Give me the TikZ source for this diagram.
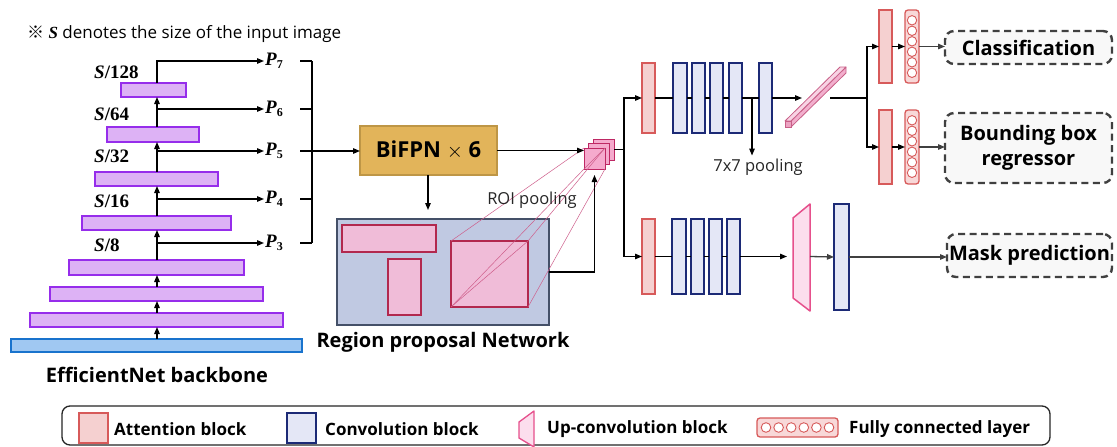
\documentclass[tikz,border=0pt]{standalone}
\usepackage{fontspec}
\setmainfont{Open Sans}
\newfontfamily\cjk{Noto Sans CJK KR}
\newfontfamily\serifb{Liberation Serif}
\usetikzlibrary{arrows.meta,calc}

\definecolor{purpF}{RGB}{221,178,245}
\definecolor{purpD}{RGB}{150,45,235}
\definecolor{baseF}{RGB}{160,200,242}
\definecolor{baseD}{RGB}{25,115,205}
\definecolor{goldF}{RGB}{226,180,90}
\definecolor{goldD}{RGB}{190,150,70}
\definecolor{rpnF}{RGB}{192,201,226}
\definecolor{rpnD}{RGB}{68,80,104}
\definecolor{propF}{RGB}{240,188,216}
\definecolor{propD}{RGB}{178,40,78}
\definecolor{roiF}{RGB}{245,170,205}
\definecolor{roiD}{RGB}{190,40,100}
\definecolor{attF}{RGB}{245,208,208}
\definecolor{attD}{RGB}{215,90,90}
\definecolor{convF}{RGB}{228,231,246}
\definecolor{convD}{RGB}{28,42,118}
\definecolor{upF}{RGB}{252,222,237}
\definecolor{upD}{RGB}{230,80,140}
\definecolor{fcF}{RGB}{248,216,216}
\definecolor{barF}{RGB}{242,175,205}
\definecolor{barD}{RGB}{200,95,135}
\definecolor{resF}{RGB}{248,248,248}
\definecolor{resD}{RGB}{64,64,64}

\newcommand\blk[7][]{\node[#3, minimum width={#6-#4}, minimum height={#7-#5}] (#2) at ({(#4+#6)/2},{(#5+#7)/2}) {#1};}
\newcommand\SLab[1]{{\serifb\bfseries{\itshape S}/#1}}
\newcommand\PLab[1]{{\serifb\bfseries{\itshape P}\raisebox{-0.35ex}{\fontsize{12}{12}\selectfont #1}}}

\begin{document}
\begin{tikzpicture}[x=1pt,y=-1pt,
  blkbase/.style={rectangle, inner sep=0pt, outer sep=0pt},
  purp/.style={blkbase, fill=purpF, draw=purpD, line width=2.6pt},
  bbase/.style={blkbase, fill=baseF, draw=baseD, line width=2.2pt},
  gold/.style={blkbase, fill=goldF, draw=goldD, line width=2.6pt, font=\bfseries\fontsize{22}{26}\selectfont},
  rpn/.style={blkbase, fill=rpnF, draw=rpnD, line width=1.4pt},
  prop/.style={blkbase, fill=propF, draw=propD, line width=1.2pt},
  roi/.style={blkbase, fill=roiF, draw=roiD, line width=0.9pt},
  att/.style={blkbase, fill=attF, draw=attD, line width=1.5pt},
  conv/.style={blkbase, fill=convF, draw=convD, line width=1.7pt},
  fcl/.style={blkbase, fill=fcF, draw=attD, line width=1.3pt, rounded corners=3pt},
  fcc/.style={fill=white, draw=attD, line width=0.9pt},
  res/.style={blkbase, fill=resF, draw=resD, line width=2.4pt, dash pattern=on 7pt off 4.5pt, rounded corners=9pt, font=\bfseries\fontsize{20}{25}\selectfont, align=center},
  legbox/.style={blkbase, draw=black!85, line width=1.3pt, rounded corners=8pt},
  ln/.style={line width=1.3pt},
  arr/.style={line width=1.3pt, -{Triangle[length=7pt,width=5.5pt]}},
  garr/.style={arr, draw=resD},
  proj/.style={draw=roiD!75, line width=0.5pt},
  slab/.style={inner sep=0pt, anchor=west, font=\fontsize{19}{22}\selectfont},
  plab/.style={inner sep=1pt, anchor=west, font=\fontsize{19}{22}\selectfont},
  ttl/.style={inner sep=0pt, font=\bfseries\fontsize{20}{24}\selectfont},
  small/.style={inner sep=0pt, font=\fontsize{16.5}{20}\selectfont, text=black!85},
  legtxt/.style={inner sep=0pt, anchor=west, font=\bfseries\fontsize{17}{20}\selectfont}
]
\fill[white] (0,0) rectangle (1117,447);
\useasboundingbox (0,0) rectangle (1117,447);

% note
\node[inner sep=0pt, anchor=west, font=\fontsize{17}{20}\selectfont] (note) at (27,34)
  {{\cjk ※} {\serifb\bfseries\itshape S} denotes the size of the input image};

% backbone
\blk{R1}{purp}{121}{83}{186}{97}
\blk{R2}{purp}{107}{127}{199}{142}
\blk{R3}{purp}{95}{172}{218}{186}
\blk{R4}{purp}{82}{216}{231}{230}
\blk{R5}{purp}{69}{260}{244}{275}
\blk{R6}{purp}{50}{287}{263}{301}
\blk{R7}{purp}{30}{313}{283}{327}
\blk{base}{bbase}{11}{339}{302}{352}
\coordinate (spine) at (157,0);
\foreach \a/\b in {base/R7,R7/R6,R6/R5,R5/R4,R4/R3,R3/R2,R2/R1}
  \draw[arr] (\a.north -| spine) -- (\b.south -| spine);

\node[ttl] (effnet) at (157,375) {EfficientNet backbone};

% scale labels
\node[slab] (s128) at (94,72) {\SLab{128}};
\node[slab] (s64) at (94,114) {\SLab{64}};
\node[slab] (s32) at (94,156) {\SLab{32}};
\node[slab] (s16) at (94,201) {\SLab{16}};
\node[slab] (s8) at (94,245) {\SLab{8}};

% P outputs
\node[plab] (P7) at (264,61) {\PLab{7}};
\node[plab] (P6) at (264,109) {\PLab{6}};
\node[plab] (P5) at (264,151) {\PLab{5}};
\node[plab] (P4) at (264,199) {\PLab{4}};
\node[plab] (P3) at (264,243) {\PLab{3}};
\draw[arr] (R1.north -| spine) |- (P7.west);
\foreach \p in {P6,P5,P4,P3}
  \draw[arr] (\p.west -| spine) -- (\p.west);

% bracket
\coordinate (bx0) at (300,0);
\coordinate (bk) at (312,0);
\foreach \p in {P7,P6,P5,P4,P3}
  \draw[ln] (\p.west -| bx0) -- (\p.west -| bk);
\draw[ln] (P7.west -| bk) -- (P3.west -| bk);

% BiFPN
\blk[BiFPN $\times$ 6]{bifpn}{gold}{360}{126}{497}{175}
\draw[arr] (P5.west -| bk) -- (P5.west -| bifpn.west);

% RPN
\blk{rpn}{rpn}{337}{219}{549}{325}
\blk{pA}{prop}{342}{225}{436}{252}
\blk{pB}{prop}{388}{259}{421}{315}
\blk{pC}{prop}{451}{241}{528}{307}
\node[ttl] (rpnlab) at (443,342) {Region proposal Network};
\coordinate (dx) at (428,0);
\draw[arr] (bifpn.south -| dx) -- ($(rpn.north -| dx)+(0,-9)$);

% ROI stack
\blk{roi3}{roi}{593}{139}{614}{160}
\blk{roi2}{roi}{588.5}{143.5}{609.5}{164.5}
\blk{roi1}{roi}{584}{148}{605}{169}
\draw[proj] (roi1.south west) -- (roi1.north east);
\draw[proj] (pC.north west) -- (roi1.north west);
\draw[proj] (pC.north east) -- (roi1.north east);
\draw[proj] (pC.south west) -- (roi1.south west);
\draw[proj] (pC.south east) -- (roi1.south east);
\draw[proj] (pC.south west) -- (pC.north east);
\node[small] (roitxt) at (532,200) {ROI pooling};
\draw[arr] (bifpn.east) -- (bifpn.east -| roi1.west);
\draw[arr] (rpn.east) -| ($(roi1.south)+(0,6)$);

% split to heads
\coordinate (sp1) at (624,149.5);
\draw[ln] (roi3.east) -- (sp1);

% top head
\blk{att1}{att}{642}{63}{655}{133}
\blk{c1a}{conv}{673}{63}{687}{133}
\blk{c1b}{conv}{692}{63}{705}{133}
\blk{c1c}{conv}{710}{63}{723}{133}
\blk{c1d}{conv}{729}{63}{742}{133}
\blk{c1e}{conv}{759}{63}{772}{133}
\draw[arr] (sp1) |- (att1.west);
\draw[ln] (att1.east) -- (c1a.west);
\draw[ln] (c1a.east) -- (c1b.west);
\draw[ln] (c1b.east) -- (c1c.west);
\draw[ln] (c1c.east) -- (c1d.west);
\draw[ln] (c1d.east) -- (c1e.west);
\node[small] (pooltxt) at (758,167) {7x7 pooling};
\coordinate (pool) at (752,98);
\draw[arr] (pool) -- ($(pool |- pooltxt.north)+(0,-3)$);

% flattened bar
\coordinate (barL) at (802,98);
\coordinate (barR) at (830,98);
\draw[arr] (c1e.east) -- (barL);
\filldraw[fill=barF, draw=barD, line width=0.8pt, line join=round] (791,127) -- (791,121) -- (846,67) -- (846,73) -- cycle;
\filldraw[fill=barF!55, draw=barD, line width=0.8pt, line join=round] (785,121) -- (791,121) -- (846,67) -- (840,67) -- cycle;
\filldraw[fill=barF!85!barD, draw=barD, line width=0.8pt] (785,121) rectangle (791,127);
\coordinate (sp2) at (867,98);
\draw[ln] (barR) -- (sp2);

% classification / bbox
\blk{att3}{att}{879}{10}{892}{83}
\blk{att4}{att}{879}{110}{892}{184}
\blk{fc1}{fcl}{905}{10}{919}{83}
\blk{fc2}{fcl}{905}{110}{919}{184}
\foreach \f in {fc1,fc2}
  \foreach \i in {0,...,5}
    \draw[fcc] ($(\f.north)+(0,10.3+10.5*\i)$) circle (4.7pt);
\draw[arr] (sp2) |- (att3.west);
\draw[arr] (sp2) |- (att4.west);
\draw[arr] (att3.east) -- (fc1.west);
\draw[arr] (att4.east) -- (fc2.west);
\blk[Classification]{cls}{res}{945}{31}{1112}{64}
\blk[Bounding box\\regressor]{bbr}{res}{945}{113}{1112}{183}
\draw[garr] (fc1.east) -- (fc1.east -| cls.west);
\draw[garr] (fc2.east) -- (fc2.east -| bbr.west);

% mask head
\blk{att2}{att}{642}{219}{655}{294}
\blk{c2a}{conv}{672}{219}{686}{294}
\blk{c2b}{conv}{691}{219}{704}{294}
\blk{c2c}{conv}{709}{219}{722}{294}
\blk{c2d}{conv}{727}{219}{740}{294}
\draw[arr] (sp1) |- (att2.west);
\draw[ln] (att2.east) -- (c2a.west);
\draw[ln] (c2a.east) -- (c2b.west);
\draw[ln] (c2b.east) -- (c2c.west);
\draw[ln] (c2c.east) -- (c2d.west);
\coordinate (upA) at (787,256.5);
\coordinate (upR) at (810,256.5);
\draw[arr] (c2d.east) -- (upA);
\filldraw[fill=upF, draw=upD, line width=1.5pt, line join=round] (793,218) -- (810,204) -- (810,311) -- (793,298) -- cycle;
\blk{c2e}{conv}{834}{204}{849}{310}
\draw[garr] (upR) -- (c2e.west);
\blk[Mask prediction]{mask}{res}{947}{234}{1112}{277}
\draw[garr] (c2e.east) -- (c2e.east -| mask.west);

% legend
\blk{leg}{legbox}{62}{406}{1050}{445}
\blk{lA}{att}{79}{413}{108}{443}
\node[legtxt] (lAt) at (114,429) {Attention block};
\blk{lC}{conv}{287}{413}{316}{443}
\node[legtxt] (lCt) at (325,429) {Convolution block};
\filldraw[fill=upF, draw=upD, line width=1.3pt, line join=round] (519,422) -- (534,411) -- (534,447) -- (519,438) -- cycle;
\node[legtxt] (lUt) at (547,429) {Up-convolution block};
\blk{lF}{fcl}{757}{418}{838}{437}
\foreach \i in {0,...,5}
  \draw[fcc] ($(lF.west)+(9+12.6*\i,0)$) circle (4.8pt);
\node[legtxt] (lFt) at (849,429) {Fully connected layer};
\end{tikzpicture}
\end{document}
